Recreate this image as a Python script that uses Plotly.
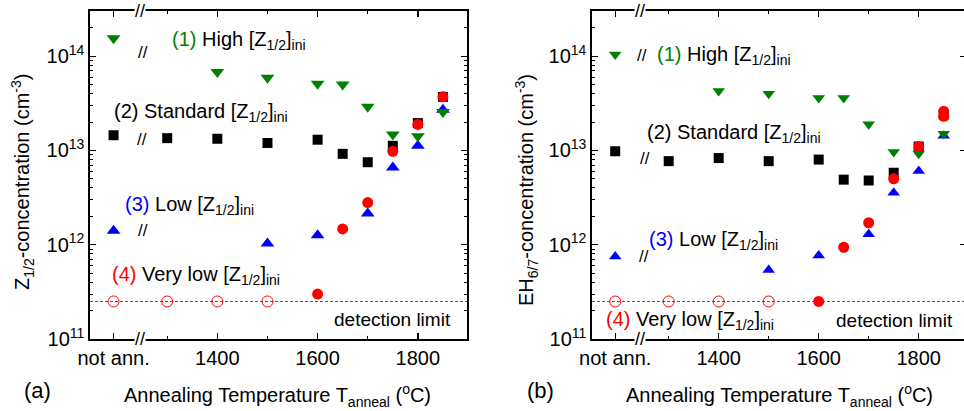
import plotly.graph_objects as go

# ---------------- data ----------------
NOT_ANN = 1193  # position used for the "not annealed" samples
DET_LIMIT = 2.5e11

# panel (a): Z1/2
a_high_x = [NOT_ANN, 1400, 1500, 1600, 1650, 1700, 1750, 1800, 1850]
a_high_y = [1.55e14, 6.8e13, 5.9e13, 5.1e13, 5.0e13, 2.9e13, 1.48e13, 1.41e13, 2.56e13]
a_std_x = [NOT_ANN, 1300, 1400, 1500, 1600, 1650, 1700, 1750, 1800, 1850]
a_std_y = [1.45e13, 1.35e13, 1.33e13, 1.2e13, 1.3e13, 9.2e12, 7.5e12, 1.12e13, 1.95e13, 3.7e13]
a_low_x = [NOT_ANN, 1500, 1600, 1700, 1750, 1800, 1850]
a_low_y = [1.41e12, 1.03e12, 1.26e12, 2.15e12, 6.6e12, 1.12e13, 2.7e13]
a_vlow_x = [1600, 1650, 1700, 1750, 1800, 1850]
a_vlow_y = [3.0e11, 1.47e12, 2.8e12, 9.8e12, 1.89e13, 3.7e13]

# panel (b): EH6/7
b_high_x = [NOT_ANN, 1400, 1500, 1600, 1650, 1700, 1750, 1800, 1850]
b_high_y = [1.04e14, 4.27e13, 4.0e13, 3.6e13, 3.6e13, 1.9e13, 9.6e12, 9.2e12, 1.5e13]
b_std_x = [NOT_ANN, 1300, 1400, 1500, 1600, 1650, 1700, 1750, 1800, 1850]
b_std_y = [9.8e12, 7.7e12, 8.3e12, 7.7e12, 8.0e12, 4.9e12, 4.8e12, 5.8e12, 1.1e13, 2.4e13]
b_low_x = [NOT_ANN, 1500, 1600, 1700, 1750, 1800, 1850]
b_low_y = [7.5e11, 5.4e11, 7.7e11, 1.29e12, 3.55e12, 6.05e12, 1.43e13]
b_vlow_x = [1600, 1650, 1700, 1750, 1800, 1850, 1850]
b_vlow_y = [2.5e11, 9.4e11, 1.71e12, 5.0e12, 1.1e13, 2.6e13, 2.3e13]

# very low samples below detection limit (open circles), both panels
below_x = [NOT_ANN, 1300, 1400, 1500]
below_y = [DET_LIMIT] * 4

x_tick_major = [NOT_ANN, 1400, 1600, 1800]
x_tick_major_text = ["not ann.", "1400", "1600", "1800"]
x_tick_minor = [1300, 1500, 1700]
y_tick_major = [1e11, 1e12, 1e13, 1e14]
y_tick_text = ["10<sup>11</sup>", "10<sup>12</sup>", "10<sup>13</sup>", "10<sup>14</sup>"]
y_tick_minor = [m * 10 ** e for e in (11, 12, 13) for m in range(2, 10)] + [2e14]

XR_A = [1146, 1898]
XR_B = [1146.6, 1890.6]
YR = [11, 14.479]

GREEN = "#008000"
BLUE = "#0000ff"
RED = "#ff0000"
FONT = "Liberation Sans, Arial, sans-serif"

fig = go.Figure()


def add_panel(xa, ya, xr, std, low, high, vlow, tri):
    fig.add_trace(go.Scatter(x=xr, y=[DET_LIMIT, DET_LIMIT], mode="lines",
                             line=dict(color="#555555", width=1, dash="3px,2px"),
                             xaxis=xa, yaxis=ya, hoverinfo="skip"))
    fig.add_trace(go.Scatter(x=std[0], y=std[1], mode="markers",
                             marker=dict(symbol="square", size=10, color="black"),
                             xaxis=xa, yaxis=ya))
    fig.add_trace(go.Scatter(x=low[0], y=low[1], mode="markers",
                             marker=dict(symbol="triangle-up", size=tri, color=BLUE),
                             xaxis=xa, yaxis=ya))
    fig.add_trace(go.Scatter(x=high[0], y=high[1], mode="markers",
                             marker=dict(symbol="triangle-down", size=tri, color=GREEN),
                             xaxis=xa, yaxis=ya))
    fig.add_trace(go.Scatter(x=vlow[0], y=vlow[1], mode="markers",
                             marker=dict(symbol="circle", size=11, color=RED),
                             xaxis=xa, yaxis=ya))
    fig.add_trace(go.Scatter(x=below_x, y=below_y, mode="markers",
                             marker=dict(symbol="circle-open", size=11, color=RED,
                                         line=dict(width=1, color=RED)),
                             xaxis=xa, yaxis=ya))


add_panel("x", "y", XR_A, (a_std_x, a_std_y), (a_low_x, a_low_y),
          (a_high_x, a_high_y), (a_vlow_x, a_vlow_y), 12)
add_panel("x2", "y2", XR_B, (b_std_x, b_std_y), (b_low_x, b_low_y),
          (b_high_x, b_high_y), (b_vlow_x, b_vlow_y), 11)
# invisible trace to keep the right-hand tick axis of panel (b)
fig.add_trace(go.Scatter(x=[XR_B[0]], y=[1e12], mode="markers", marker=dict(opacity=0),
                         xaxis="x2", yaxis="y3", hoverinfo="skip"))

W, H = 964, 411
ydom = [1 - 339 / H, 1 - 11 / H]

xcommon = dict(showline=True, linecolor="black", linewidth=1.6, mirror="ticks",
               ticks="inside", ticklen=6, tickwidth=1.3, tickcolor="black",
               tickmode="array", tickvals=x_tick_major, ticktext=x_tick_major_text,
               minor=dict(tickmode="array", tickvals=x_tick_minor, ticks="inside",
                          ticklen=3, tickwidth=1.3, tickcolor="black", showgrid=False),
               showgrid=False, zeroline=False, automargin=False,
               tickfont=dict(family=FONT, size=20, color="black"))
ycommon = dict(type="log", range=YR, domain=ydom, showline=True, linecolor="black",
               linewidth=1.6, ticks="inside", ticklen=6, tickwidth=1.3, tickcolor="black",
               tickmode="array", tickvals=y_tick_major, ticktext=y_tick_text,
               minor=dict(tickmode="array", tickvals=y_tick_minor, ticks="inside",
                          ticklen=3, tickwidth=1, tickcolor="black", showgrid=False),
               showgrid=False, zeroline=False, automargin=False,
               tickfont=dict(family=FONT, size=20, color="black"))

fig.update_layout(
    width=W, height=H, autosize=False,
    margin=dict(l=0, r=0, t=0, b=0, pad=0, autoexpand=False),
    paper_bgcolor="white", plot_bgcolor="white",
    showlegend=False, hovermode=False,
    font=dict(family=FONT, size=20, color="black"),
    xaxis=dict(domain=[90 / W, 467 / W], range=XR_A, anchor="y", **xcommon),
    yaxis=dict(anchor="x", mirror="ticks", **ycommon),
    xaxis2=dict(domain=[592 / W, 1.0], range=XR_B, anchor="y2", **xcommon),
    yaxis2=dict(anchor="x2", mirror=False, **ycommon),
    yaxis3=dict(type="log", range=YR, overlaying="y2", anchor="x2", side="right",
                showline=False, ticks="inside", ticklen=4, tickwidth=1.3, tickcolor="black",
                tickmode="array", tickvals=y_tick_major, showticklabels=False,
                showgrid=False, zeroline=False, automargin=False),
)

ann = []


def txt(x, y, text, xa, ya, xanchor="left", size=20, **kw):
    ann.append(dict(x=x, y=y, xref=xa, yref=ya, text=text, showarrow=False,
                    xanchor=xanchor, yanchor="middle",
                    font=dict(family=FONT, size=size, color="black"), **kw))


Z = "[Z<sub>1/2</sub>]<sub>ini</sub>"
g = lambda s, c: f'<span style="color:{c}">{s}</span>'

# panel (a) labels
txt(1306, 14.17, g("(1)", GREEN) + " High " + Z, "x", "y")
txt(1252, 14.04, "//", "x", "y", xanchor="center", size=17)
txt(1190, 13.40, "(2) Standard " + Z, "x", "y")
txt(1250, 13.117, "//", "x", "y", xanchor="center", size=17)
txt(1212, 12.415, g("(3)", BLUE) + " Low " + Z, "x", "y")
txt(1252, 12.15, "//", "x", "y", xanchor="center", size=17)
txt(1186, 11.67, g("(4)", RED) + " Very low " + Z, "x", "y")
txt(1870, 11.21, "detection limit", "x", "y", xanchor="right", size=19)

# panel (b) labels
txt(1246.6, 14.01, "//", "x2", "y2", xanchor="center", size=17)
txt(1272.6, 14.01, g("(1)", GREEN) + " High " + Z, "x2", "y2")
txt(1252.6, 13.18, "(2) Standard " + Z, "x2", "y2")
txt(1252.6, 12.91, "//", "x2", "y2", xanchor="center", size=17)
txt(1256.6, 12.05, g("(3)", BLUE) + " Low " + Z, "x2", "y2")
txt(1250.6, 11.875, "//", "x2", "y2", xanchor="center", size=17)
txt(1170.6, 11.2, g("(4)", RED) + " Very low " + Z, "x2", "y2")
txt(1872.6, 11.2, "detection limit", "x2", "y2", xanchor="right", size=19)

# axis breaks on the x axes
for xa, ya, xb in (("x", "y domain", 1246), ("x2", "y2 domain", 1243)):
    for yy in (0, 1):
        ann.append(dict(x=xb, y=yy, xref=xa, yref=ya, text="//", showarrow=False,
                        xanchor="center", yanchor="middle", bgcolor="white", borderpad=0,
                        font=dict(family=FONT, size=18, color="black")))

# axis titles and panel letters
XT = "Annealing Temperature T<sub>anneal</sub> (<sup>o</sup>C)"
ann.append(dict(x=277 / W, y=1 - 395 / H, xref="paper", yref="paper", text=XT,
                showarrow=False, xanchor="center", yanchor="middle",
                font=dict(family=FONT, size=20, color="black")))
ann.append(dict(x=779 / W, y=1 - 395 / H, xref="paper", yref="paper", text=XT,
                showarrow=False, xanchor="center", yanchor="middle",
                font=dict(family=FONT, size=20, color="black")))
ann.append(dict(x=22 / W, y=1 - 182 / H, xref="paper", yref="paper",
                text="Z<sub>1/2</sub>-concentration (cm<sup>-3</sup>)", textangle=-90,
                showarrow=False, xanchor="center", yanchor="middle",
                font=dict(family=FONT, size=20, color="black")))
ann.append(dict(x=526 / W, y=1 - 190 / H, xref="paper", yref="paper",
                text="EH<sub>6/7</sub>-concentration (cm<sup>-3</sup>)", textangle=-90,
                showarrow=False, xanchor="center", yanchor="middle",
                font=dict(family=FONT, size=20, color="black")))
ann.append(dict(x=37 / W, y=1 - 390 / H, xref="paper", yref="paper", text="(a)",
                showarrow=False, xanchor="center", yanchor="middle",
                font=dict(family=FONT, size=22, color="black")))
ann.append(dict(x=540 / W, y=1 - 390 / H, xref="paper", yref="paper", text="(b)",
                showarrow=False, xanchor="center", yanchor="middle",
                font=dict(family=FONT, size=22, color="black")))

fig.update_layout(annotations=ann)
fig.write_html("out.html", config={"displayModeBar": False, "staticPlot": True},
               post_script="document.body.style.margin='0';document.body.style.overflow='hidden';")
